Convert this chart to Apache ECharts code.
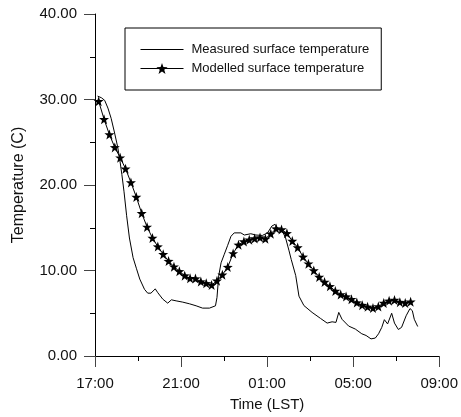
<!DOCTYPE html>
<html>
<head>
<meta charset="utf-8">
<script src="https://cdn.jsdelivr.net/npm/echarts@6/dist/echarts.min.js"></script>
<style>
    html, body { margin: 0; padding: 0; background: #fff; }
    #chart { width: 461px; height: 417px; }
</style>
</head>
<body>
<div id="chart"></div>
<script>
// hours after 17:00 (LST)
var measuredTimes = [0.12, 0.3, 0.45, 0.6, 0.75, 0.9, 1.05, 1.15, 1.25, 1.35, 1.47, 1.6, 1.77, 1.93, 2.08,
    2.3, 2.45, 2.6, 2.8, 2.92, 3.15, 3.38, 3.55, 3.77, 4.08, 4.4, 4.7, 5.0, 5.32, 5.6, 5.67, 5.75, 5.86,
    6.01, 6.16, 6.32, 6.47, 6.78, 6.94, 7.24, 7.48, 7.78, 8.02, 8.22, 8.37, 8.48, 8.71, 8.86, 9.02, 9.12,
    9.2, 9.33, 9.48, 9.71, 10.09, 10.48, 10.79, 11.02, 11.2, 11.33, 11.48, 11.79, 12.1, 12.4, 12.6, 12.83,
    13.03, 13.18, 13.33, 13.45, 13.6, 13.79, 13.92, 14.1, 14.25, 14.46, 14.64, 14.75, 14.84, 15.0];
var measuredTemps = [30.4, 30.2, 29.9, 29.0, 27.8, 26.2, 24.5, 23.0, 21.2, 19.2, 16.4, 13.8, 11.5, 10.2, 9.0,
    7.8, 7.35, 7.35, 7.85, 7.4, 6.65, 6.18, 6.57, 6.45, 6.3, 6.1, 5.87, 5.6, 5.6, 5.87, 6.85, 9.37, 10.9,
    11.9, 12.9, 14.0, 14.4, 14.4, 14.15, 14.3, 14.15, 14.1, 14.4, 15.2, 15.4, 15.0, 14.6, 13.8, 12.3, 11.3,
    11.5, 9.4, 7.0, 5.9, 5.1, 4.4, 3.85, 4.0, 3.93, 5.1, 4.3, 3.5, 3.15, 2.6, 2.4, 2.0,
    2.1, 2.6, 3.35, 4.25, 3.75, 5.0, 3.85, 3.1, 3.35, 4.7, 5.55, 5.3, 4.3, 3.45];

var modelledTimes = [0.17, 0.42, 0.67, 0.92, 1.17, 1.42, 1.67, 1.92, 2.17, 2.42, 2.67, 2.92, 3.17, 3.42, 3.67,
    3.92, 4.17, 4.42, 4.67, 4.92, 5.17, 5.42, 5.67, 5.92, 6.17, 6.42, 6.67, 6.92, 7.17, 7.42, 7.67, 7.92,
    8.17, 8.42, 8.67, 8.92, 9.17, 9.42, 9.67, 9.92, 10.17, 10.42, 10.67, 10.92, 11.17, 11.42, 11.67, 11.92,
    12.17, 12.42, 12.67, 12.92, 13.17, 13.42, 13.67, 13.92, 14.17, 14.42, 14.67];
var modelledTemps = [29.8, 27.7, 25.9, 24.4, 23.2, 21.9, 20.3, 18.6, 16.7, 15.1, 13.8, 12.8, 11.9, 11.1, 10.45,
    9.9, 9.4, 9.1, 9.05, 8.7, 8.5, 8.3, 8.8, 9.5, 10.4, 12.0, 13.0, 13.4, 13.6, 13.75, 13.85, 13.7,
    14.3, 14.9, 14.8, 14.35, 13.45, 12.7, 11.6, 10.8, 10.0, 9.25, 8.65, 8.15, 7.6, 7.2, 6.95, 6.65,
    6.25, 5.95, 5.75, 5.6, 5.8, 6.2, 6.45, 6.55, 6.3, 6.2, 6.35];

var seriesNames = ['Measured surface temperature', 'Modelled surface temperature'];
var startHour = 17;

function pairs(xs, ys) {
    return xs.map(function (x, i) { return [x, ys[i]]; });
}

// 5 point star
var starPath = 'path://M0,-10L2.35,-3.24L9.51,-3.09L3.8,1.24L5.88,8.09L0,4L-5.88,8.09L-3.8,1.24L-9.51,-3.09L-2.35,-3.24Z';
// plain line for the legend of the measured series
var linePath = 'path://M0,0L43,0L43,1L0,1Z';
var font = 'Liberation Sans, Arial, sans-serif';

var chart = echarts.init(document.getElementById('chart'));
var option = {
    animation: false,
    backgroundColor: '#fff',
    textStyle: { fontFamily: font, color: '#111' },
    grid: { left: 95, right: 20, top: 14, bottom: 60 },
    legend: {
        orient: 'vertical',
        left: 125,
        top: 28,
        padding: [15, 12, 15, 15],
        itemWidth: 43,
        itemHeight: 14,
        itemGap: 6,
        borderColor: '#000',
        borderWidth: 1,
        borderRadius: 0,
        backgroundColor: '#fff',
        lineStyle: { width: 1, color: '#000' },
        textStyle: { fontFamily: font, fontSize: 13, color: '#111', padding: [0, 0, 0, 3] },
        data: [
            { name: seriesNames[0], icon: linePath },
            { name: seriesNames[1] }
        ]
    },
    xAxis: {
        type: 'value',
        min: 0,
        max: 16,
        interval: 4,
        name: 'Time (LST)',
        nameLocation: 'middle',
        nameGap: 41,
        nameTextStyle: { fontFamily: font, fontSize: 15, color: '#111' },
        splitLine: { show: false },
        axisLine: { lineStyle: { color: '#000', width: 1 } },
        axisTick: { length: 11, lineStyle: { color: '#444' } },
        minorTick: { show: true, splitNumber: 2, length: 5, lineStyle: { color: '#000' } },
        axisLabel: {
            margin: 20,
            fontSize: 15,
            color: '#111',
            formatter: function (v) {
                var h = (startHour + v) % 24;
                return (h < 10 ? '0' : '') + h + ':00';
            }
        }
    },
    yAxis: {
        type: 'value',
        min: 0,
        max: 40,
        interval: 10,
        name: 'Temperature (C)',
        nameLocation: 'middle',
        nameGap: 68,
        nameTextStyle: { fontFamily: font, fontSize: 16, color: '#111' },
        splitLine: { show: false },
        axisLine: { show: true, lineStyle: { color: '#000', width: 1 } },
        axisTick: { show: true, length: 11, lineStyle: { color: '#444' } },
        minorTick: { show: true, splitNumber: 2, length: 5, lineStyle: { color: '#000' } },
        axisLabel: {
            margin: 18,
            fontSize: 15,
            color: '#111',
            formatter: function (v) { return v.toFixed(2); }
        }
    },
    series: [
        {
            name: seriesNames[0],
            type: 'line',
            data: pairs(measuredTimes, measuredTemps),
            symbol: 'none',
            lineStyle: { color: '#000', width: 1 },
            itemStyle: { color: '#000' }
        },
        {
            name: seriesNames[1],
            type: 'line',
            data: pairs(modelledTimes, modelledTemps),
            symbol: starPath,
            symbolSize: 10,
            showAllSymbol: true,
            lineStyle: { color: '#000', width: 1 },
            itemStyle: { color: '#000' }
        }
    ]
};
chart.setOption(option);
window.addEventListener('resize', function () {
    chart.resize();
});
</script>
</body>
</html>
